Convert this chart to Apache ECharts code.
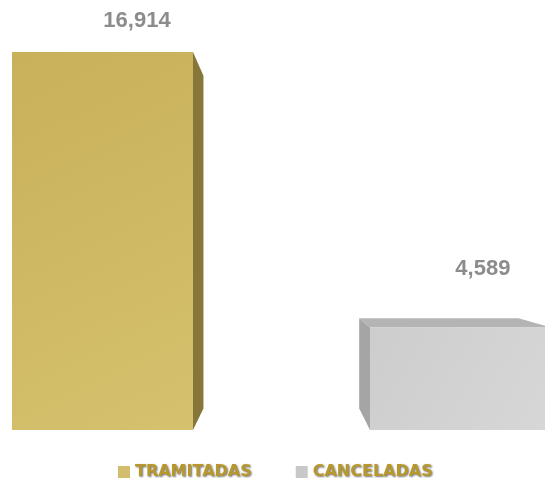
<!DOCTYPE html>
<html>
<head>
<meta charset="utf-8">
<script src="https://cdn.jsdelivr.net/npm/echarts@6/dist/echarts.min.js"></script>
<style>
  html, body { margin: 0; padding: 0; background: #fff; }
  #chart { width: 545px; height: 478px; }
</style>
</head>
<body>
<div id="chart"></div>
<script>
// datos
const categories = ['TRAMITADAS', 'CANCELADAS'];
const values = [16914, 4589];

// colores: frente, lado, techo, leyenda
const faceColors = [
  { front: ['#c9b05a', '#d5c16e'], side: '#86763a', top: '#b8a24e', legend: '#d2bd6c' },
  { front: ['#cdcdcd', '#d7d7d7'], side: '#a5a5a5', top: '#b4b4b4', legend: '#c8c8c8' }
];

// punto de fuga y profundidad del efecto 3D
const VX = 280, VY = 250, DEPTH = 0.12;

function back(p) {
  return [p[0] + DEPTH * (VX - p[0]), p[1] + DEPTH * (VY - p[1])];
}

function renderBar(params, api) {
  const idx = params.seriesIndex;
  const c = faceColors[idx];
  const base = api.coord([api.value(0), 0]);
  const top = api.coord([api.value(0), api.value(1)]);
  const bw = api.size([1, 0])[0] * 0.5056;
  const x0 = base[0] - bw / 2, x1 = base[0] + bw / 2;
  const yt = top[1], yb = base[1];

  const fTL = [x0, yt], fTR = [x1, yt], fBL = [x0, yb], fBR = [x1, yb];
  const bTL = back(fTL), bTR = back(fTR), bBL = back(fBL), bBR = back(fBR);

  const children = [];
  // cara lateral
  if (base[0] < VX) {
    children.push({ type: 'polygon', shape: { points: [fTR, bTR, bBR, fBR] }, style: { fill: c.side } });
  } else {
    children.push({ type: 'polygon', shape: { points: [fTL, bTL, bBL, fBL] }, style: { fill: c.side } });
  }
  // techo
  if (yt > VY) {
    children.push({ type: 'polygon', shape: { points: [fTL, bTL, bTR, fTR] }, style: { fill: c.top } });
  }
  // frente
  children.push({
    type: 'rect',
    shape: { x: x0, y: yt, width: bw, height: yb - yt },
    style: {
      fill: new echarts.graphic.LinearGradient(0, 0, 1, 1, [
        { offset: 0, color: c.front[0] },
        { offset: 1, color: c.front[1] }
      ])
    }
  });
  // etiqueta de valor
  children.push({
    type: 'text',
    x: base[0] * 0.966 + 38,
    y: yt * 0.9 - 26,
    style: {
      text: values[idx].toLocaleString('en-US'),
      fill: '#8c8c8c',
      font: 'bold 22px "Liberation Sans", Arial, sans-serif',
      align: 'center',
      verticalAlign: 'middle',
      shadowColor: 'rgba(0,0,0,0.25)',
      shadowBlur: 2,
      shadowOffsetX: 1,
      shadowOffsetY: 1
    }
  });
  return { type: 'group', children: children };
}

const chart = echarts.init(document.getElementById('chart'));

chart.setOption({
  animation: false,
  grid: { left: 0, right: 0, top: 50, bottom: 48 },
  xAxis: {
    type: 'value',
    min: -0.2863,
    max: 1.236,
    show: false
  },
  yAxis: {
    type: 'value',
    min: 0,
    max: 17000,
    show: false
  },
  legend: {
    left: 113,
    top: 459,
    itemWidth: 12,
    itemHeight: 12,
    itemGap: 44,
    icon: 'rect',
    textStyle: {
      color: '#b8982a',
      fontFamily: '"DejaVu Sans", sans-serif',
      fontWeight: 'bold',
      fontSize: 16,
      textShadowColor: 'rgba(0,0,0,0.55)',
      textShadowBlur: 2,
      textShadowOffsetX: 1,
      textShadowOffsetY: 1
    },
    data: categories
  },
  series: categories.map((name, i) => ({
    name: name,
    type: 'custom',
    clip: false,
    itemStyle: { color: faceColors[i].legend },
    renderItem: renderBar,
    data: [[i, values[i]]]
  }))
});
</script>
</body>
</html>
